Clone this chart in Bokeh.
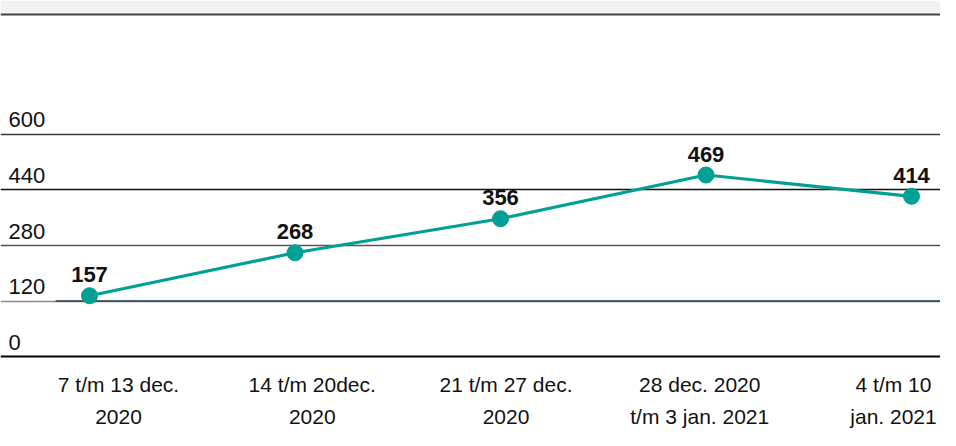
from bokeh.plotting import figure
from bokeh.models import Range1d, ColumnDataSource, LabelSet, BoxAnnotation, Span
from bokeh.core.properties import value
from bokeh.embed import file_html
from bokeh.resources import INLINE

# ---- data ----
categories = ["7 t/m 13 dec.\n2020", "14 t/m 20dec.\n2020", "21 t/m 27 dec.\n2020",
              "28 dec. 2020\nt/m 3 jan. 2021", "4 t/m 10\njan. 2021"]
values = [157, 268, 356, 469, 414]
y_tick_labels = ["0", "120", "280", "440", "600"]

FONT = "Liberation Sans"
TEAL = "#00a094"

# frame fills the whole figure; value 0 sits 74px above the bottom edge
p = figure(width=940, height=430, output_backend="svg", toolbar_location=None,
           x_axis_type=None, y_axis_type=None,
           x_range=Range1d(-0.4331, 4.1411), y_range=Range1d(-191.2, 919.9),
           min_border=0)
p.outline_line_color = None
p.background_fill_color = "white"
p.border_fill_color = "white"
p.xgrid.visible = False
p.ygrid.visible = False

p.extra_x_ranges = {"lab": Range1d(-0.609, 4.2426)}
p.extra_y_ranges = {"grid": Range1d(-1.333, 6.414)}

# title band at the top (title text itself is cut off in the reference)
p.add_layout(BoxAnnotation(bottom=883.7, fill_color="#f2f2f2", fill_alpha=1,
                           line_color=None, level="underlay"))
p.add_layout(Span(location=883.7, dimension="width", line_color="#444444",
                  line_width=2))

# horizontal gridlines
grid_idx = list(range(1, len(y_tick_labels)))
p.hspan(y=grid_idx, line_color=["#8a8a8a", "#555555", "#111111", "#3a3a3a"],
        line_width=1.3, y_range_name="grid")
p.segment(x0=[-0.165], y0=[1], x1=[4.2], y1=[1], line_color="#1f3b57",
          line_width=1.3, y_range_name="grid")
# baseline (x axis line)
p.hspan(y=[0], line_color="#000000", line_width=2, y_range_name="grid")

# y tick labels above the gridlines
ysrc = ColumnDataSource(dict(k=list(range(len(y_tick_labels))), t=y_tick_labels))
p.add_layout(LabelSet(x=8, y="k", text="t", source=ysrc, x_units="screen",
                      y_range_name="grid", y_offset=7,
                      text_font=value(FONT), text_font_size="22px",
                      text_color="#111111", text_baseline="alphabetic",
                      text_align="left"))

# category labels, two lines each, below the baseline
line1 = [c.split("\n")[0] for c in categories]
line2 = [c.split("\n")[1] for c in categories]
xsrc = ColumnDataSource(dict(i=list(range(len(categories))),
                             z=[0] * len(categories), a=line1, b=line2))
for col, off in (("a", 28), ("b", 60)):
    p.text("i", "z", text=col, source=xsrc, x_range_name="lab",
           y_range_name="grid", y_offset=off,
           text_font=value(FONT), text_font_size="21px", text_color="#111111",
           text_align="center", text_baseline="alphabetic")

# data
src = ColumnDataSource(dict(x=list(range(len(values))), y=values,
                            t=[str(v) for v in values]))
p.line("x", "y", source=src, line_color=TEAL, line_width=3.2)
p.scatter("x", "y", source=src, size=16, fill_color=TEAL, line_color=TEAL)
p.text("x", "y", text="t", source=src, y_offset=-21,
       text_font=value(FONT), text_font_style="bold", text_font_size="22px",
       text_color="#111111", text_align="center", text_baseline="alphabetic")

open("out.html", "w").write(file_html(p, INLINE))
